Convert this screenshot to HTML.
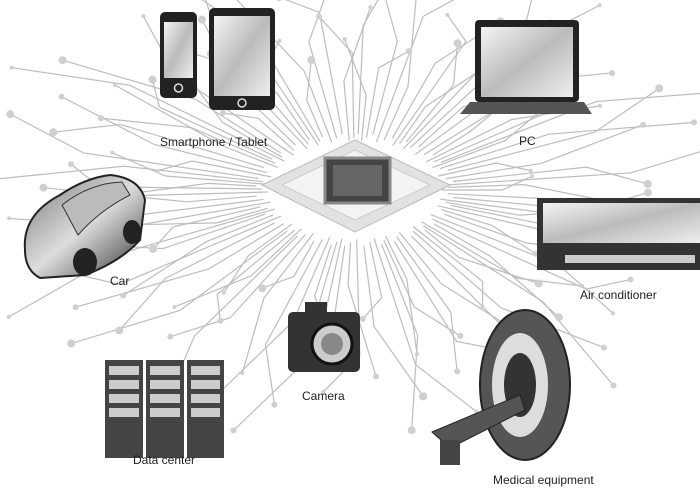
<!DOCTYPE html>
<html><head><meta charset="utf-8"><style>
html,body{margin:0;padding:0;background:#fff}
svg{display:block}
text{font-family:"Liberation Sans",sans-serif;font-size:12px;fill:#222}
</style></head><body>
<svg id="s" width="700" height="500" viewBox="0 0 700 500" xmlns="http://www.w3.org/2000/svg">
<defs>
<linearGradient id="scr" x1="0" y1="0" x2="1" y2="1"><stop offset="0" stop-color="#f4f4f4"/><stop offset=".5" stop-color="#bbb"/><stop offset="1" stop-color="#eee"/></linearGradient>
<linearGradient id="car" x1="0" y1="0" x2="1" y2="1"><stop offset="0" stop-color="#777"/><stop offset=".5" stop-color="#ddd"/><stop offset="1" stop-color="#333"/></linearGradient>
</defs>
<g id="traces" stroke="#bdbdbd" stroke-width="1.2" fill="none"></g>
<g id="pads" fill="#cfcfcf"></g>
<!-- center platform -->
<polygon points="355,140 450,185 355,232 262,185" fill="#e2e2e2" stroke="#bbb"/>
<polygon points="355,150 430,185 355,220 282,185" fill="#f3f3f3" stroke="#ccc"/>
<rect x="325" y="158" width="65" height="45" fill="#444" stroke="#888" stroke-width="3"/>
<rect x="333" y="165" width="49" height="31" fill="#666"/>
<!-- phone -->
<rect x="160" y="12" width="37" height="86" rx="5" fill="#222"/>
<rect x="164" y="22" width="29" height="56" fill="url(#scr)"/>
<circle cx="178.5" cy="88" r="4" fill="none" stroke="#ddd" stroke-width="1.5"/>
<!-- tablet -->
<rect x="209" y="8" width="66" height="102" rx="5" fill="#222"/>
<rect x="214" y="16" width="56" height="80" fill="url(#scr)"/>
<circle cx="242" cy="103" r="4" fill="none" stroke="#ddd" stroke-width="1.5"/>
<!-- laptop -->
<rect x="475" y="20" width="104" height="82" rx="4" fill="#222"/>
<rect x="481" y="27" width="92" height="70" fill="url(#scr)"/>
<polygon points="470,102 584,102 592,114 460,114" fill="#555"/>
<!-- car -->
<path d="M25,250 Q22,215 60,195 Q85,178 110,175 Q140,178 145,200 L140,240 Q120,262 85,275 L40,278 Q25,270 25,250 Z" fill="url(#car)" stroke="#222" stroke-width="2"/>
<path d="M62,205 Q90,183 122,182 L130,195 Q100,210 78,235 Z" fill="#bbb" stroke="#333"/>
<ellipse cx="85" cy="262" rx="12" ry="14" fill="#222"/>
<ellipse cx="132" cy="232" rx="9" ry="12" fill="#222"/>
<!-- air conditioner -->
<rect x="537" y="198" width="163" height="72" fill="#333"/>
<rect x="543" y="203" width="157" height="40" fill="url(#scr)"/>
<rect x="565" y="255" width="130" height="8" fill="#ccc"/>
<!-- camera -->
<rect x="288" y="312" width="72" height="60" rx="5" fill="#333"/>
<rect x="305" y="302" width="22" height="12" fill="#333"/>
<circle cx="332" cy="344" r="20" fill="#ccc" stroke="#111" stroke-width="3"/>
<circle cx="332" cy="344" r="11" fill="#888"/>
<!-- data center -->
<g fill="#444">
<rect x="105" y="360" width="38" height="98"/><rect x="146" y="360" width="38" height="98"/><rect x="187" y="360" width="37" height="98"/>
</g>
<g fill="#ccc">
<rect x="109" y="366" width="30" height="9"/><rect x="109" y="380" width="30" height="9"/><rect x="109" y="394" width="30" height="9"/><rect x="109" y="408" width="30" height="9"/>
<rect x="150" y="366" width="30" height="9"/><rect x="150" y="380" width="30" height="9"/><rect x="150" y="394" width="30" height="9"/><rect x="150" y="408" width="30" height="9"/>
<rect x="191" y="366" width="29" height="9"/><rect x="191" y="380" width="29" height="9"/><rect x="191" y="394" width="29" height="9"/><rect x="191" y="408" width="29" height="9"/>
</g>
<!-- MRI -->
<ellipse cx="525" cy="385" rx="45" ry="75" fill="#555" stroke="#222" stroke-width="2"/>
<ellipse cx="520" cy="385" rx="28" ry="52" fill="#ddd"/>
<ellipse cx="520" cy="385" rx="16" ry="32" fill="#333"/>
<polygon points="432,432 520,395 525,410 450,448" fill="#555" stroke="#222"/>
<rect x="440" y="440" width="20" height="25" fill="#444"/>
<!-- labels -->
<text x="160" y="146">Smartphone / Tablet</text>
<text x="519" y="145">PC</text>
<text x="110" y="285">Car</text>
<text x="580" y="299">Air conditioner</text>
<text x="302" y="400">Camera</text>
<text x="133" y="464">Data center</text>
<text x="493" y="484">Medical equipment</text>
</svg>
<script>
(function(){
var t=document.getElementById('traces'),p=document.getElementById('pads'),ns='http://www.w3.org/2000/svg';
var cx=355,cy=190,N=110;
for(var i=0;i<N;i++){
 var a=i/N*Math.PI*2+0.02*Math.sin(i*7);
 var r0=58+(i%3)*4, r1=95+((i*37)%7)*14, r2=r1+20+((i*13)%5)*18;
 var x0=cx+Math.cos(a)*r0*1.5,y0=cy+Math.sin(a)*r0*0.85;
 var x1=cx+Math.cos(a)*r1*1.55,y1=cy+Math.sin(a)*r1;
 var a2=a+((i%2)?0.12:-0.12);
 var x2=cx+Math.cos(a2)*r2*1.55,y2=cy+Math.sin(a2)*r2;
 var pl=document.createElementNS(ns,'polyline');
 pl.setAttribute('points',x0+','+y0+' '+x1+','+y1+' '+x2+','+y2);
 t.appendChild(pl);
 var c=document.createElementNS(ns,'circle');
 c.setAttribute('cx',x2);c.setAttribute('cy',y2);c.setAttribute('r',2+(i%3));
 p.appendChild(c);
}
})();
</script>
</body></html>
